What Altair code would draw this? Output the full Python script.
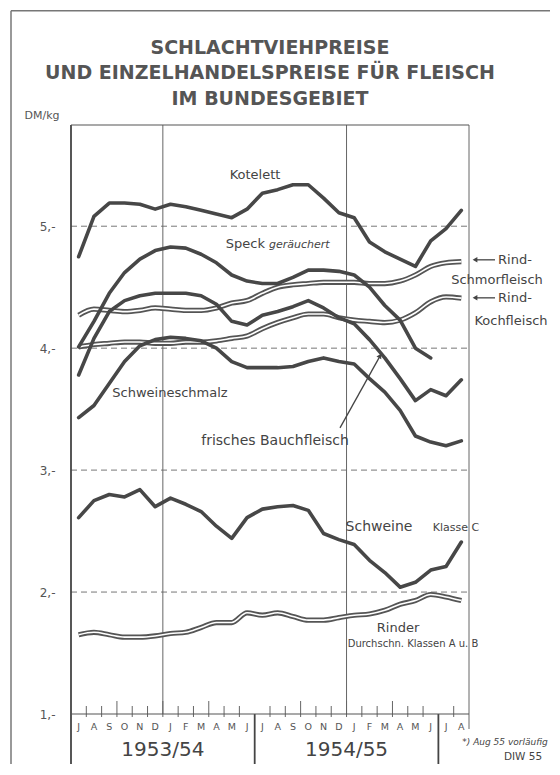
import altair as alt
import pandas as pd

# ---------------- data ----------------
months = ["J", "A", "S", "O", "N", "D", "J", "F", "M", "A", "M", "J",
          "J", "A", "S", "O", "N", "D", "J", "F", "M", "A", "M", "J",
          "J", "A"]
years = ["1953/54", "1954/55"]
y_ticks = [1, 2, 3, 4, 5]
title_lines = ["SCHLACHTVIEHPREISE",
               "UND EINZELHANDELSPREISE FÜR FLEISCH",
               "IM BUNDESGEBIET"]

kotelett = [4.75, 5.08, 5.19, 5.19, 5.18, 5.14, 5.18, 5.16, 5.13, 5.10, 5.07, 5.14,
            5.27, 5.30, 5.34, 5.34, 5.23, 5.11, 5.07, 4.87, 4.79, 4.73, 4.67, 4.88,
            4.98, 5.13]
speck = [4.01, 4.22, 4.45, 4.62, 4.73, 4.80, 4.83, 4.82, 4.77, 4.70, 4.60, 4.55,
         4.53, 4.53, 4.58, 4.64, 4.64, 4.63, 4.60, 4.50, 4.35, 4.23, 4.00, 3.92,
         None, None]
bauchfleisch = [3.78, 4.08, 4.30, 4.39, 4.43, 4.45, 4.45, 4.45, 4.43, 4.36, 4.22, 4.19,
                4.27, 4.30, 4.34, 4.39, 4.33, 4.25, 4.20, 4.07, 3.92, 3.75, 3.57, 3.66,
                3.61, 3.74]
schmalz = [3.43, 3.53, 3.71, 3.89, 4.02, 4.07, 4.09, 4.08, 4.06, 4.00, 3.89, 3.84,
           3.84, 3.84, 3.85, 3.89, 3.92, 3.89, 3.87, 3.75, 3.64, 3.49, 3.28, 3.23,
           3.20, 3.24]
schmorfleisch = [4.27, 4.32, 4.31, 4.30, 4.31, 4.33, 4.32, 4.31, 4.31, 4.33, 4.37, 4.39,
                 4.45, 4.50, 4.52, 4.53, 4.54, 4.54, 4.54, 4.53, 4.53, 4.55, 4.60, 4.67,
                 4.70, 4.71]
kochfleisch = [4.01, 4.03, 4.04, 4.05, 4.05, 4.04, 4.04, 4.05, 4.05, 4.06, 4.08, 4.10,
               4.16, 4.21, 4.25, 4.28, 4.28, 4.25, 4.23, 4.22, 4.21, 4.23, 4.29, 4.38,
               4.42, 4.41]
schweine_c = [2.61, 2.75, 2.80, 2.78, 2.84, 2.70, 2.77, 2.72, 2.66, 2.54, 2.44, 2.61,
              2.68, 2.70, 2.71, 2.67, 2.48, 2.43, 2.39, 2.26, 2.16, 2.04, 2.08, 2.18,
              2.21, 2.41]
rinder = [1.65, 1.67, 1.65, 1.63, 1.63, 1.64, 1.66, 1.67, 1.71, 1.75, 1.75, 1.83,
          1.81, 1.83, 1.80, 1.77, 1.77, 1.79, 1.81, 1.82, 1.85, 1.90, 1.93, 1.98,
          1.96, 1.93]

solid_series = {"Kotelett": kotelett, "Speck": speck, "Bauchfleisch": bauchfleisch,
                "Schweineschmalz": schmalz, "Schweine": schweine_c}
double_series = {"Schmorfleisch": schmorfleisch, "Kochfleisch": kochfleisch,
                 "Rinder": rinder}


def long(series):
    rows = []
    for name, vals in series.items():
        for i, v in enumerate(vals):
            if v is not None:
                rows.append({"series": name, "x": i + 0.5, "y": v})
    return pd.DataFrame(rows)


df_solid = long(solid_series)
df_double = long(double_series)

N = len(months)
INK = "#474747"
FONT = "DejaVu Sans"

x_scale = alt.Scale(domain=[0, N], nice=False, zero=False)
y_scale = alt.Scale(domain=[1, 5.83], nice=False, zero=False)
y_axis = alt.Axis(values=y_ticks, labelExpr="datum.value + ',-'", domain=False,
                  ticks=False, grid=False, labelPadding=16, labelFontSize=12,
                  labelColor="#555", labelFont=FONT, title=None)


def X(f="x"):
    return alt.X(f"{f}:Q", scale=x_scale, axis=None)


def Y(f="y"):
    return alt.Y(f"{f}:Q", scale=y_scale, axis=y_axis)


PX_X = N / 398.0      # data units per pixel (x)
PX_Y = 4.83 / 589.0   # data units per pixel (y)


def px(x):
    return (x - 71) * PX_X


def py(y):
    return 1 + (714 - y) / 121.9


# ---------------- frame / grid ----------------
grid = alt.Chart(pd.DataFrame({"y": y_ticks[1:], "x": 0, "x2": N})).mark_rule(
    color="#777", strokeWidth=1, strokeDash=[6, 4]
).encode(x=X(), x2="x2:Q", y=Y())

frame_h = alt.Chart(pd.DataFrame({"x": [0, 0], "x2": [N, N],
                                  "y": [1, 5.83]})).mark_rule(
    color="#555", strokeWidth=1.2
).encode(x=X(), x2="x2:Q", y=Y())

outer_frame = alt.Chart(pd.DataFrame({"x": [px(11), px(11), px(11)],
                                      "x2": [px(560), px(11), px(35)],
                                      "y": [py(11), py(11), py(773)],
                                      "y2": [py(11), py(773), py(773)]})).mark_rule(
    color="#777", strokeWidth=1.5
).encode(x=X(), x2="x2:Q", y=Y(), y2="y2:Q")

vthin = alt.Chart(pd.DataFrame({"x": [6, 18, N],
                                "y": [1, 1, 1 - 15 * PX_Y],
                                "y2": [5.83, 5.83, 5.83]})).mark_rule(
    color="#666", strokeWidth=1
).encode(x=X(), y=Y(), y2="y2:Q")

vthick = alt.Chart(pd.DataFrame({"x": [0, 12, 24],
                                 "y": [1 - 51 * PX_Y] * 3,
                                 "y2": [5.83, 1, 1]})).mark_rule(
    color="#444", strokeWidth=1.8
).encode(x=X(), y=Y(), y2="y2:Q")

tick_rows = []
for b in range(1, N):
    if b in (12, 24):
        continue
    tall = 13 if b % 3 == 0 else 8
    tick_rows.append({"x": b, "y": 1 - 3 * PX_Y, "y2": 1 + tall * PX_Y})
ticks = alt.Chart(pd.DataFrame(tick_rows)).mark_rule(color="#666", strokeWidth=1).encode(
    x=X(), y=Y(), y2="y2:Q")

# ---------------- data lines ----------------
solid = alt.Chart(df_solid).mark_line(color=INK, strokeWidth=3.6, strokeJoin="round",
                                      strokeCap="round").encode(
    x=X(), y=Y(), detail="series:N")
dbl_outer = alt.Chart(df_double).mark_line(color="#555", strokeWidth=5.2,
                                           interpolate="monotone").encode(
    x=X(), y=Y(), detail="series:N")
dbl_inner = alt.Chart(df_double).mark_line(color="white", strokeWidth=1.6,
                                           interpolate="monotone").encode(
    x=X(), y=Y(), detail="series:N")


# ---------------- text ----------------
def label(text, x, y, size, align="center", style="normal", weight="normal",
          color="#444", baseline="middle"):
    return alt.Chart(pd.DataFrame({"x": [x], "y": [y], "t": [text]})).mark_text(
        align=align, baseline=baseline, fontSize=size, fontStyle=style,
        fontWeight=weight, font=FONT, color=color
    ).encode(x=X(), y=Y(), text="t:N")


texts = []
for i, line in enumerate(title_lines):
    texts.append(label(line, px(270), py(48 + 25.5 * i), 19, weight="bold", color="#555"))
texts.append(label("DM/kg", px(42), py(116), 11, color="#555"))

texts += [
    label("Kotelett", px(255), py(175), 13),
    label("Speck", px(265), py(244), 13, align="right"),
    label("geräuchert", px(269), py(245), 11, align="left", style="italic"),
    label("Schweineschmalz", px(170), py(393), 13),
    label("frisches Bauchfleisch", px(275), py(441), 14),
    label("Rind-", px(498), py(260), 13, align="left"),
    label("Schmorfleisch", px(497), py(280), 13),
    label("Rind-", px(498), py(298), 13, align="left"),
    label("Kochfleisch", px(511), py(321), 13),
    label("Schweine", px(379), py(527), 14),
    label("Klasse C", px(456), py(528), 11),
    label("Rinder", px(398), py(628), 13),
    label("Durchschn. Klassen A u. B", px(413), py(644), 10),
    label("*) Aug 55 vorläufig", px(505), py(742), 9, style="italic"),
    label("DIW 55", px(523), py(757), 10.5),
]

months_df = pd.DataFrame({"x": [i + 0.5 for i in range(N)], "y": py(727), "t": months})
month_text = alt.Chart(months_df).mark_text(
    fontSize=9.5, font=FONT, color="#555", baseline="middle").encode(
    x=X(), y=Y(), text="t:N")

years_df = pd.DataFrame({"x": [6, 18], "y": py(750), "t": years})
year_text = alt.Chart(years_df).mark_text(
    fontSize=20, font=FONT, color="#444", baseline="middle").encode(
    x=X(), y=Y(), text="t:N")

# arrows
arrow_lines = alt.Chart(pd.DataFrame({
    "x": [px(340), px(476), px(476)], "x2": [px(379), px(495), px(495)],
    "y": [py(428), py(260), py(298)], "y2": [py(358), py(260), py(298)]})).mark_rule(
    color="#444", strokeWidth=1.3).encode(x=X(), x2="x2:Q", y=Y(), y2="y2:Q")
arrow_heads_left = alt.Chart(pd.DataFrame({"x": [px(475), px(475)],
                                           "y": [py(260), py(298)]})).mark_point(
    shape="triangle-left", filled=True, size=30, color="#444", opacity=1).encode(x=X(), y=Y())
arrow_head_up = alt.Chart(pd.DataFrame({"x": [px(380)], "y": [py(356)]})).mark_point(
    shape="triangle-up", filled=True, size=30, color="#444", opacity=1, angle=29).encode(x=X(), y=Y())

chart = alt.layer(
    grid, vthin, vthick, ticks, frame_h, outer_frame,
    dbl_outer, dbl_inner, solid,
    month_text, year_text, arrow_lines, arrow_heads_left, arrow_head_up,
    *texts
).properties(
    width=398, height=589,
    padding={"left": 63, "top": 117, "right": 81, "bottom": 50},
    autosize=alt.AutoSizeParams(type="none"),
    background="white",
).configure_view(stroke=None)

chart.save("out.html", embed_options={"renderer": "svg", "actions": False})
